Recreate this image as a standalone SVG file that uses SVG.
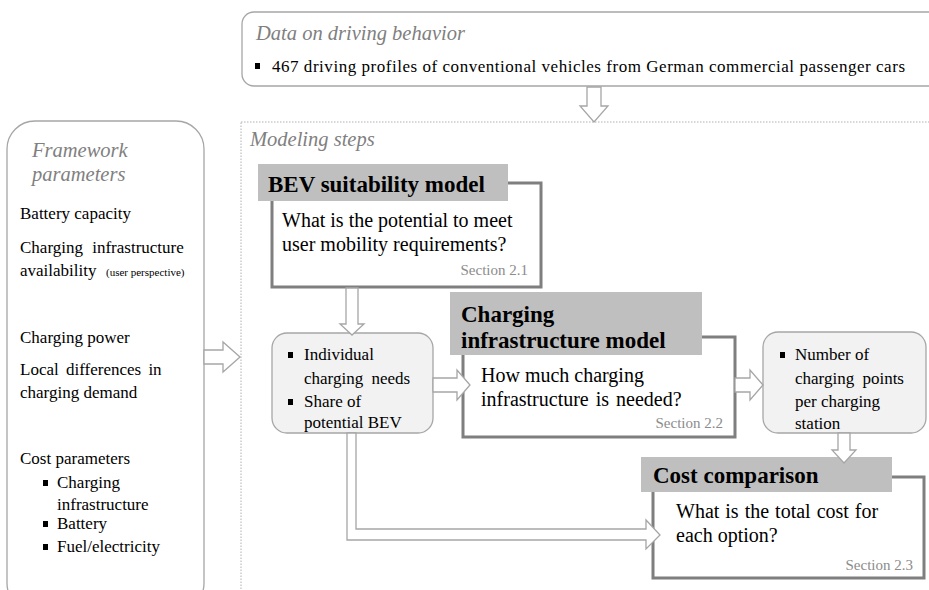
<svg xmlns="http://www.w3.org/2000/svg" width="929" height="590" viewBox="0 0 929 590">
<style>
text{font-family:"Liberation Serif","Times New Roman",serif;fill:#000}
.ttl{font-style:italic;fill:#808080;font-size:20.5px}
.t{font-size:17px}
.q{font-size:20px}
.h{font-size:23px;font-weight:bold}
.sec{font-size:15px;fill:#8c8c8c;text-anchor:end}
.rbox{fill:#fff;stroke:#a6a6a6;stroke-width:1.3}
.gbox{fill:#f2f2f2;stroke:#a6a6a6;stroke-width:1.3}
.frame{fill:none;stroke:#7f7f7f;stroke-width:3}
.hdr{fill:#bfbfbf}
.arr{fill:#fff;stroke:#a6a6a6;stroke-width:1.3;stroke-linejoin:miter}
.dot{fill:none;stroke:#b0b0b0;stroke-width:1;stroke-dasharray:1.5 1.5}
</style>
<rect width="929" height="590" fill="#fff"/>

<g id="modeling">
<rect class="dot" x="241" y="122" width="700" height="480"/>
<text class="ttl" x="250" y="146">Modeling steps</text>
</g>

<g id="data">
<rect class="rbox" x="242" y="12" width="710" height="74" rx="12"/>
<text class="ttl" x="256" y="40">Data on driving behavior</text>
<rect x="255" y="63" width="5" height="6" fill="#000"/>
<text class="t" x="272" y="72" textLength="633">467 driving profiles of conventional vehicles from German commercial passenger cars</text>
</g>

<g id="framework">
<rect class="rbox" x="7" y="121" width="197" height="490" rx="28"/>
<text class="ttl" x="32" y="157">Framework</text>
<text class="ttl" x="32" y="181">parameters</text>
<text class="t" x="20" y="219">Battery capacity</text>
<text class="t" x="20" y="253" word-spacing="5">Charging infrastructure</text>
<text class="t" x="20" y="276">availability</text>
<text x="106" y="276" font-size="11">(user perspective)</text>
<text class="t" x="20" y="343">Charging power</text>
<text class="t" x="20" y="375" word-spacing="3">Local differences in</text>
<text class="t" x="20" y="398">charging demand</text>
<text class="t" x="20" y="464">Cost parameters</text>
<rect x="43" y="480" width="5" height="6" fill="#000"/>
<text class="t" x="57" y="488">Charging</text>
<text class="t" x="57" y="510">infrastructure</text>
<rect x="43" y="521" width="5" height="6" fill="#000"/>
<text class="t" x="57" y="529">Battery</text>
<rect x="43" y="544" width="5" height="6" fill="#000"/>
<text class="t" x="57" y="552">Fuel/electricity</text>
</g>

<g id="bev">
<polyline class="frame" points="508,183 541,183 541,287 272,287 272,201"/>
<rect class="hdr" x="258" y="164" width="250" height="37"/>
<text class="h" x="268" y="192">BEV suitability model</text>
<text class="q" x="282" y="227">What is the potential to meet</text>
<text class="q" x="282" y="251">user mobility requirements?</text>
<text class="sec" x="528" y="275">Section 2.1</text>
</g>

<g id="needs">
<rect class="gbox" x="272" y="333" width="161" height="100" rx="15"/>
<rect x="288" y="352" width="5" height="6" fill="#000"/>
<text class="t" x="304" y="360">Individual</text>
<text class="t" x="304" y="384" word-spacing="4">charging needs</text>
<rect x="288" y="399" width="5" height="6" fill="#000"/>
<text class="t" x="304" y="407">Share of</text>
<text class="t" x="304" y="428">potential BEV</text>
</g>

<g id="infra">
<polyline class="frame" points="702,337 735,337 735,437 463,437 463,355"/>
<rect class="hdr" x="450" y="292" width="252" height="63"/>
<text class="h" x="461" y="322">Charging</text>
<text class="h" x="461" y="348">infrastructure model</text>
<text class="q" x="481" y="382">How much charging</text>
<text class="q" x="481" y="406" word-spacing="2">infrastructure is needed?</text>
<text class="sec" x="723" y="428">Section 2.2</text>
</g>

<g id="points">
<rect class="gbox" x="763" y="332" width="163" height="101" rx="15"/>
<rect x="780" y="352" width="5" height="6" fill="#000"/>
<text class="t" x="795" y="360">Number of</text>
<text class="t" x="795" y="384" word-spacing="4">charging points</text>
<text class="t" x="795" y="407">per charging</text>
<text class="t" x="795" y="429">station</text>
</g>

<g id="cost">
<polyline class="frame" points="892,477 924,477 924,578 653,578 653,492"/>
<rect class="hdr" x="641" y="457" width="251" height="35"/>
<text class="h" x="653" y="483">Cost comparison</text>
<text class="q" x="676" y="518" word-spacing="1">What is the total cost for</text>
<text class="q" x="676" y="542">each option?</text>
<text class="sec" x="913" y="570">Section 2.3</text>
</g>

<g id="connectors">
<polygon class="arr" points="587,87 601,87 601,106 608,106 594,122 580,106 587,106"/>
<polygon class="arr" points="204,350 223,350 223,342 240,357 223,372 223,364 204,364"/>
<polygon class="arr" points="346,288 358,288 358,324 364,324 352,335 340,324 346,324"/>
<polygon class="arr" points="433,378 457,378 457,370 470,385 457,400 457,392 433,392"/>
<polygon class="arr" points="735,378 750,378 750,370 763,385 750,400 750,392 735,392"/>
<polygon class="arr" points="838,433 850,433 850,450 856,450 844,463 832,450 838,450"/>
<polygon class="arr" points="347,433 356,433 356,529 646,529 646,520 660,535 646,549 646,540 347,540"/>
</g>
</svg>
